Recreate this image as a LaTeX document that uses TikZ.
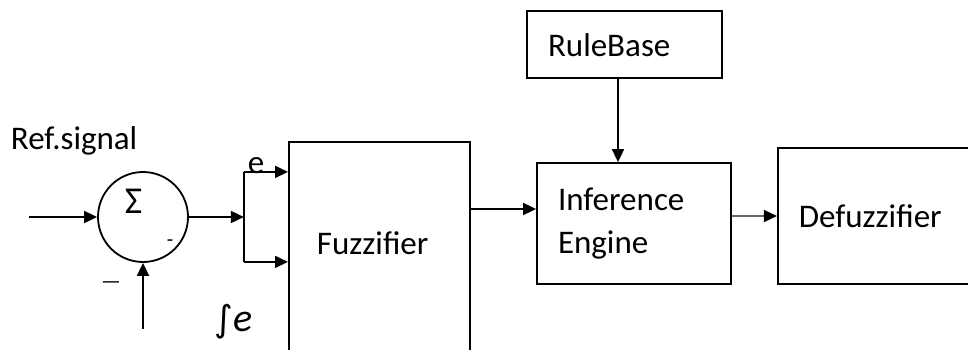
\documentclass[tikz,border=0pt]{standalone}
\usepackage{fontspec}
\setmainfont{Carlito}
\newfontfamily\intfont{DejaVu Sans}
\usetikzlibrary{positioning, arrows.meta}

\begin{document}
\begin{tikzpicture}[
        x=1pt, y=1pt,
        % Block style: plain rectangles, text set flush left
        block/.style={
                rectangle, draw, line width=1.8pt,
                inner xsep=21pt, inner ysep=0pt,
                align=left,
                font=\fontsize{33}{43}\selectfont
            },
        % Summing junction
        sumnode/.style={
                circle, draw, line width=1.8pt,
                minimum size=90pt, inner sep=0pt
            },
        % Free text
        plain/.style={inner sep=0pt, font=\fontsize{33}{40}\selectfont},
        small/.style={inner sep=0pt, font=\fontsize{21}{25}\selectfont},
        % Arrow style
        >={Triangle[length=13pt, width=12pt]},
        line width=1.8pt
    ]
    \useasboundingbox (0,0) rectangle (968,349);

    %% ---- Summing junction and its inputs ----
    \node[sumnode] (sum) at (143,132) {};
    \node[plain, font=\fontsize{38}{44}\selectfont, anchor=base west] (sigma) at (124,136) {Σ};
    \node[small] (minus) at (170,106) {-};
    \coordinate[left=68pt of sum.west] (ref);
    \coordinate[below=66pt of sum.south] (fb);
    \node[plain, anchor=base west] (reflbl) at (10,200) {Ref.signal};
    \node[small, font=\fontsize{22}{26}\selectfont] (dash) at (111,64) {—};

    %% ---- Blocks ----
    \node[block, minimum width=181pt, minimum height=260pt, anchor=north west] (fuzz) at (288,208) {};
    \node[plain, anchor=base west] (fuzzlbl) at (316,95) {Fuzzifier};
    \node[block, minimum height=121pt, text width=152pt] (inf) at (634,125.5) {Inference\\Engine};
    \node[block, minimum height=67pt, text width=153pt, above=83pt of inf, xshift=-9.5pt] (rule) {RuleBase};
    \node[block, minimum height=136pt, text width=192pt, right=45pt of inf, yshift=7.5pt] (defuzz) {Defuzzifier};

    %% ---- Split into e and integral of e ----
    \coordinate[right=55pt of sum.east] (split);
    \coordinate[above=100pt of fuzz.west] (ein);
    \coordinate[above=10pt of fuzz.west] (iein);
    \node[plain, anchor=base west] (elbl) at (247,176) {e};
    \node[plain, anchor=base west] (ielbl) at (214,18)
    {{\intfont\fontsize{36}{40}\selectfont ∫}{\fontsize{40}{44}\selectfont\itshape e}};

    %% ---- Connectors ----
    \draw[->] (ref) -- (sum);
    \draw[->] (fb) -- (sum.south);
    \draw[->] (sum) -- (split);
    \draw[->] (split |- ein) -- (ein);
    \draw[->] (split |- iein) -- (iein);
    \draw (split |- ein) -- (split |- iein);
    \draw[->] ([yshift=14.5pt]inf.west -| fuzz.east) -- ([yshift=14.5pt]inf.west);
    \draw[->] ([xshift=-6.5pt]rule.south) -- ([xshift=-6.5pt]rule.south |- inf.north);
    \draw[-{Triangle[length=13pt, width=12pt, black]}, draw=black!60]
    (defuzz.west -| inf.east) -- (defuzz.west);

\end{tikzpicture}
\end{document}
